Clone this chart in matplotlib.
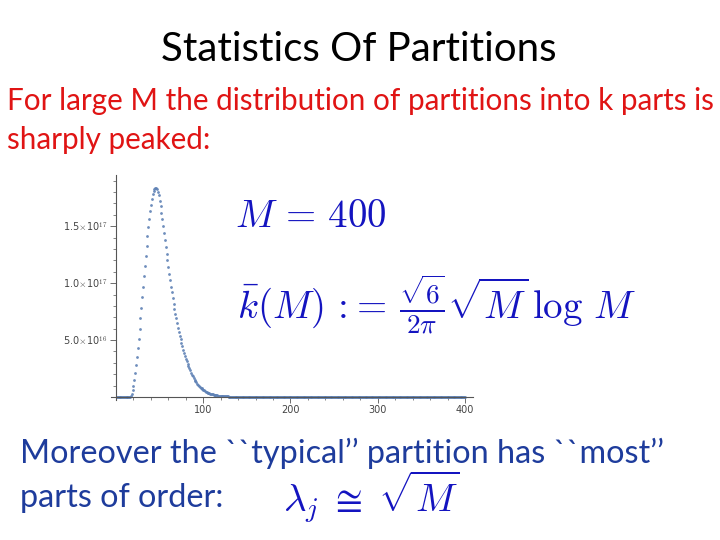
import matplotlib
matplotlib.use("Agg")
import matplotlib.pyplot as plt
from matplotlib.ticker import FixedLocator, FuncFormatter

plt.rcParams['mathtext.fontset'] = 'cm'

# number of partitions of M=400 into k parts, in units of 1e16
k_parts = list(range(1, 401))
counts_e16 = (
    [0.0] * 15
    + [0.02, 0.08, 0.25, 0.6, 1.0, 1.5, 2.1, 2.8, 3.5, 4.3,          # k=16..25
       5.1, 6.0, 6.9, 7.8, 8.8, 9.7, 10.6, 11.5, 12.4, 13.3,          # k=26..35
       14.1, 14.9, 15.6, 16.3, 16.9, 17.4, 17.8, 18.1, 18.3, 18.4,    # k=36..45
       18.35, 18.25, 18.05, 17.7, 17.25, 16.75, 16.2, 15.6, 15.0, 14.4,  # k=46..55
       13.8, 13.2, 12.6, 12.0, 11.4, 10.8, 10.25, 9.7, 9.2, 8.7,      # k=56..65
       8.2, 7.75, 7.3, 6.9, 6.5, 6.1, 5.75, 5.4, 5.05, 4.75,          # k=66..75
       4.45, 4.15, 3.9, 3.62, 3.38, 3.15, 2.93, 2.72, 2.52, 2.33,     # k=76..85
       2.15, 1.97, 1.8, 1.65, 1.52, 1.4, 1.28, 1.18, 1.08, 0.99,      # k=86..95
       0.9, 0.82, 0.75, 0.68, 0.62, 0.57, 0.52, 0.47, 0.43, 0.39,     # k=96..105
       0.36, 0.33, 0.3, 0.27, 0.25, 0.23, 0.21, 0.19, 0.17, 0.155,    # k=106..115
       0.14, 0.13, 0.12, 0.11, 0.1, 0.09, 0.082, 0.075, 0.068, 0.062, # k=116..125
       0.056, 0.051, 0.046, 0.042, 0.038, 0.034, 0.031, 0.028, 0.025, 0.023,
       0.021, 0.019, 0.017, 0.015, 0.014, 0.012, 0.011, 0.01, 0.009, 0.008,
       0.007, 0.006, 0.006, 0.005, 0.005, 0.004, 0.004, 0.003, 0.003, 0.003,
       0.002, 0.002, 0.002, 0.002, 0.001]                              # up to k=160
    + [0.0] * 240
)

x_ticks = [100, 200, 300, 400]
y_ticks_e16 = [5, 10, 15]
y_tick_labels = [r'5.0$\times$10$^{16}$', r'1.0$\times$10$^{17}$', r'1.5$\times$10$^{17}$']

W, H = 720, 540
fig = plt.figure(figsize=(7.2, 5.4), dpi=100)

# slide text
fig.text(359 / W, 1 - 61 / H, 'Statistics Of Partitions', ha='center', va='baseline',
         fontsize=29, family='Lato', color='black')
fig.text(7 / W, 1 - 110 / H, 'For large M the distribution of partitions into k parts is',
         ha='left', va='baseline', fontsize=21.3, family='Lato', color='#e01414')
fig.text(7 / W, 1 - 149 / H, 'sharply peaked:', ha='left', va='baseline',
         fontsize=21.3, family='Lato', color='#e01414')
fig.text(20 / W, 1 - 463 / H, "Moreover the ``typical\u2019\u2019 partition has ``most\u2019\u2019",
         ha='left', va='baseline', fontsize=23.3, family='Lato', color='#1e3c9c')
fig.text(20 / W, 1 - 507 / H, 'parts of order:', ha='left', va='baseline',
         fontsize=23.3, family='Lato', color='#1e3c9c')

math_blue = '#1414c0'
fig.text(235 / W, 1 - 227 / H, r'$M\, =\, 400$', ha='left', va='baseline',
         fontsize=28, color=math_blue)
fig.text(237 / W, 1 - 305 / H,
         r'$\bar{k}(M)\,{:}\!{=}\,\frac{\sqrt{6}}{2\pi}\sqrt{M}\,\log\, M$',
         ha='left', va='center', fontsize=28, color=math_blue)
fig.text(283 / W, 1 - 512 / H, r'$\lambda_j\; \cong\; \sqrt{M}$', ha='left', va='baseline',
         fontsize=28, color=math_blue)

# the plot itself
ax = fig.add_axes([110.8 / W, (540 - 400.4) / H, 362 / W, 225.4 / H])
ax.plot(k_parts, [c * 1e16 for c in counts_e16], 'o', ms=2, color='#5e81b5',
        markeredgewidth=0, alpha=0.9)
ax.set_xlim(-6, 409)
ax.set_ylim(-0.3e16, 19.5e16)

for side in ['top', 'right']:
    ax.spines[side].set_visible(False)
ax.spines['left'].set_position(('data', 0))
ax.spines['bottom'].set_position(('data', 0))
for side in ['left', 'bottom']:
    ax.spines[side].set_color('#555555')
    ax.spines[side].set_linewidth(0.8)

ax.xaxis.set_major_locator(FixedLocator(x_ticks))
ax.xaxis.set_minor_locator(FixedLocator([v for v in range(20, 401, 20) if v % 100]))
ax.yaxis.set_major_locator(FixedLocator([v * 1e16 for v in y_ticks_e16]))
ax.yaxis.set_minor_locator(FixedLocator([v * 1e16 for v in range(1, 20) if v % 5]))
ax.yaxis.set_major_formatter(FuncFormatter(
    lambda v, p: y_tick_labels[y_ticks_e16.index(round(v / 1e16))]))
ax.tick_params(which='major', length=4, width=0.6, color='#555555',
               labelsize=7, labelcolor='#444444', pad=2)
ax.tick_params(which='minor', length=2, width=0.5, color='#555555')

fig.savefig('out.png', dpi=100)
